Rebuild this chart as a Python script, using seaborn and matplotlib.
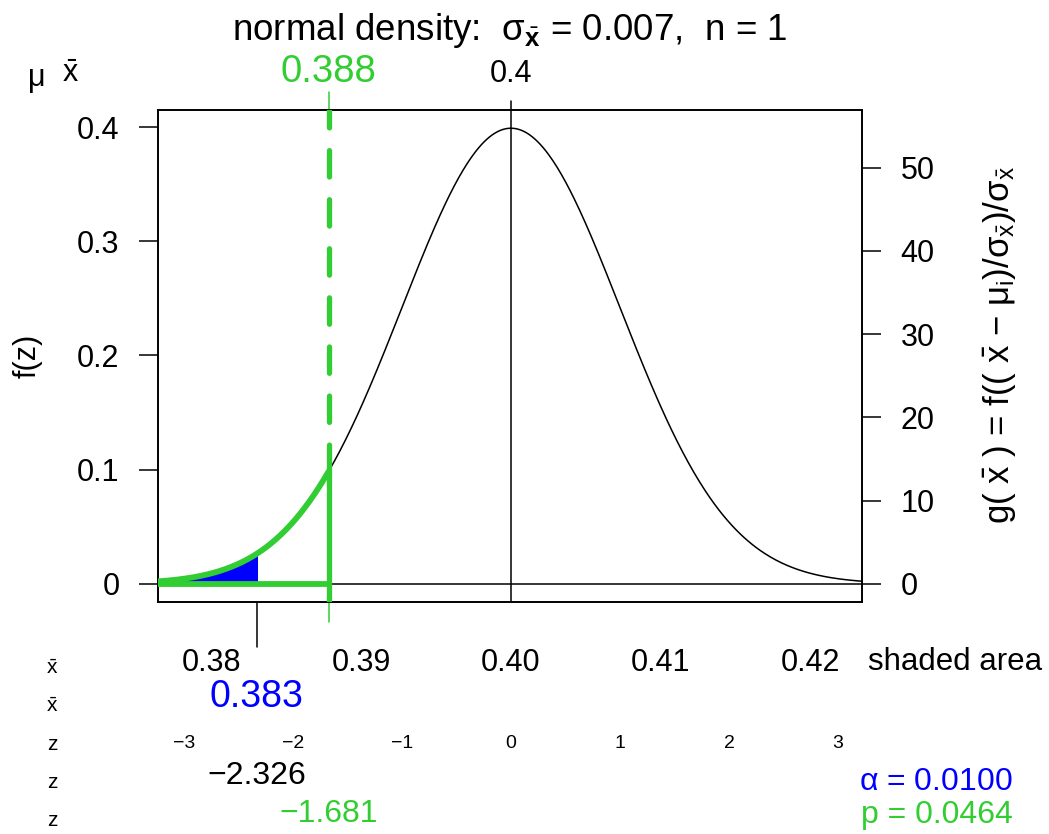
import numpy as np
import pandas as pd
import matplotlib.pyplot as plt
import seaborn as sns

# valores
mu = 0.4
sigma = 0.00729          # se muestra redondeado como 0.007
n = 1
x_crit = 0.3830          # 0.383 (azul)
x_obs = 0.3878           # 0.388 (verde)
z_crit = -2.326
z_obs = -1.681
alpha = 0.0100
p_val = 0.0464

x_ticks = [0.38, 0.39, 0.40, 0.41, 0.42]
x_tick_labels = ["0.38", "0.39", "0.40", "0.41", "0.42"]
z_ticks = [-3, -2, -1, 0, 1, 2, 3]
f_ticks = [0, 0.1, 0.2, 0.3, 0.4]
f_tick_labels = ["0", "0.1", "0.2", "0.3", "0.4"]
g_ticks = [0, 10, 20, 30, 40, 50]
xlim = (0.37639, 0.42348)
ylim = (-0.01596, 0.41489)

blue = "#0000FF"
green = "#32CD32"

sns.set_theme(style="white")
plt.rcParams['font.family'] = ['Liberation Sans', 'DejaVu Sans']
plt.rcParams['mathtext.fontset'] = 'custom'
plt.rcParams['mathtext.rm'] = 'Liberation Sans'
plt.rcParams['mathtext.it'] = 'Liberation Sans:italic'
plt.rcParams['mathtext.bf'] = 'Liberation Sans:bold'
plt.rcParams['mathtext.default'] = 'regular'
for k in ['text.color', 'axes.labelcolor', 'xtick.color', 'ytick.color', 'axes.edgecolor']:
    plt.rcParams[k] = 'black'


def dens(x):
    z = (np.asarray(x) - mu) / sigma
    return np.exp(-0.5 * z ** 2) / np.sqrt(2 * np.pi)


# curvas
x_all = np.linspace(xlim[0], xlim[1], 500)
df = pd.DataFrame({'x': x_all, 'f': dens(x_all)})
x_g = np.linspace(xlim[0], x_obs, 250)
df_obs = pd.DataFrame({'x': x_g, 'f': dens(x_g)})
x_b = np.linspace(xlim[0], x_crit, 250)
df_crit = pd.DataFrame({'x': x_b, 'f': dens(x_b)})

W, H = 1049, 834
fig = plt.figure(figsize=(W / 100, H / 100), dpi=100)
ax = fig.add_axes([158 / W, 1 - 602 / H, 704 / W, 492 / H])


def yf(px):
    # posicion vertical en fraccion de ejes a partir de pixeles
    return (602 - px) / 492


# area sombreada
ax.fill_between(df_crit['x'], 0, df_crit['f'], color=blue, lw=1, edgecolor=blue, zorder=2)

# curva normal
sns.lineplot(data=df, x='x', y='f', color='black', lw=1.1, ax=ax, zorder=3)
ax.axhline(0, color='black', lw=1.1, zorder=3)
ax.axvline(mu, color='black', lw=1.1, zorder=3)

# parte verde
sns.lineplot(data=df_obs, x='x', y='f', color=green, lw=4.2, ax=ax, zorder=4,
             solid_capstyle='round')
ax.plot([xlim[0] - 0.001, x_obs], [0, 0], color=green, lw=4.2, zorder=4, solid_capstyle='round')
ax.plot([x_obs, x_obs], [ylim[0], dens(x_obs)], color=green, lw=3.8, zorder=4,
        solid_capstyle='round')
ax.plot([x_obs, x_obs], [dens(x_obs), ylim[1] + 0.05], color=green, lw=3.8, zorder=4,
        linestyle=(0, (5, 4.3)), dash_capstyle='round')

ax.set_xlim(*xlim)
ax.set_ylim(*ylim)
ax.set_xlabel('')
ax.set_ylabel('')

ax.set_xticks(x_ticks)
ax.set_xticklabels(x_tick_labels)
ax.set_yticks(f_ticks)
ax.set_yticklabels(f_tick_labels)
ax.tick_params(axis='x', length=14.4, width=1.1, pad=18.5, labelsize=22, color='black')
ax.tick_params(axis='y', length=13.7, width=1.1, pad=14, labelsize=22, color='black')
for s in ax.spines.values():
    s.set_color('black')
    s.set_linewidth(1.4)

# eje derecho g(xbar)
ax2 = ax.twinx()
ax2.set_ylim(ylim[0] / sigma, ylim[1] / sigma)
ax2.set_yticks(g_ticks)
ax2.set_yticklabels([str(v) for v in g_ticks])
ax2.tick_params(axis='y', length=13.7, width=1.1, pad=14, labelsize=22, color='black')
ax2.grid(False)
for s in ax2.spines.values():
    s.set_visible(False)

# marcas extra abajo y arriba
tr = ax.get_xaxis_transform()
ax.plot([x_crit, x_crit], [0, yf(647)], color='black', lw=1.1, transform=tr, clip_on=False)
ax.plot([x_obs, x_obs], [0, yf(622)], color=green, lw=1.1, transform=tr, clip_on=False)
ax.plot([mu, mu], [1, yf(101)], color='black', lw=1.1, transform=tr, clip_on=False)
ax.plot([x_obs, x_obs], [1, yf(92)], color=green, lw=1.1, transform=tr, clip_on=False)

# etiquetas de arriba
ax.text(x_obs, yf(72), "0.388", color=green, size=27.5, ha='center', va='center', transform=tr)
ax.text(mu, yf(74), "0.4", color='black', size=22, ha='center', va='center', transform=tr)

# filas de abajo
ax.text(x_crit, yf(697), "0.383", color=blue, size=27, ha='center', va='center', transform=tr)
for z in z_ticks:
    lab = str(z).replace('-', '\u2212')
    ax.text(mu + z * sigma, yf(744), lab, color='black', size=14, ha='center', va='center',
            transform=tr)
ax.text(x_crit, yf(776), f"{z_crit:.3f}".replace('-', '\u2212'), color='black', size=23,
        ha='center', va='center', transform=tr)
ax.text(x_obs, yf(814), f"{z_obs:.3f}".replace('-', '\u2212'), color=green, size=23,
        ha='center', va='center', transform=tr)

fig.text(868 / W, 1 - 662 / H, "shaded area", size=22.5, ha='left', va='center')
fig.text(1013 / W, 1 - 782 / H, r"$\alpha$ = " + f"{alpha:.4f}", color=blue, size=23,
         ha='right', va='center')
fig.text(1013 / W, 1 - 815 / H, f"p = {p_val:.4f}", color=green, size=23,
         ha='right', va='center')

# columna izquierda
for lab, ypx in [(r"$\bar{x}$", 669), (r"$\bar{x}$", 707), ("z", 744), ("z", 782), ("z", 820)]:
    fig.text(52 / W, 1 - ypx / H, lab, size=15, ha='center', va='center')

fig.text(36 / W, 1 - 80 / H, r"$\mu$", size=22, ha='center', va='center')
fig.text(70 / W, 1 - 74 / H, r"$\bar{x}$", size=22, ha='center', va='center')

# titulo y ejes
fig.text(510 / W, 1 - 30 / H, r"normal density:  $\sigma_{\bar{\mathbf{x}}}$ = 0.007,  n = 1",
         size=26.5, ha='center', va='center')
fig.text(28 / W, 1 - 356 / H, "f(z)", size=22, rotation=90, ha='center', va='center')
fig.text(1000 / W, 1 - 345 / H,
         r"g( $\bar{x}$ ) = f(( $\bar{x}$ $-$ $\mu_{i}$)/$\sigma_{\bar{x}}$)/$\sigma_{\bar{x}}$",
         size=25, rotation=90, ha='center', va='center')

fig.savefig('out.png', dpi=100)
